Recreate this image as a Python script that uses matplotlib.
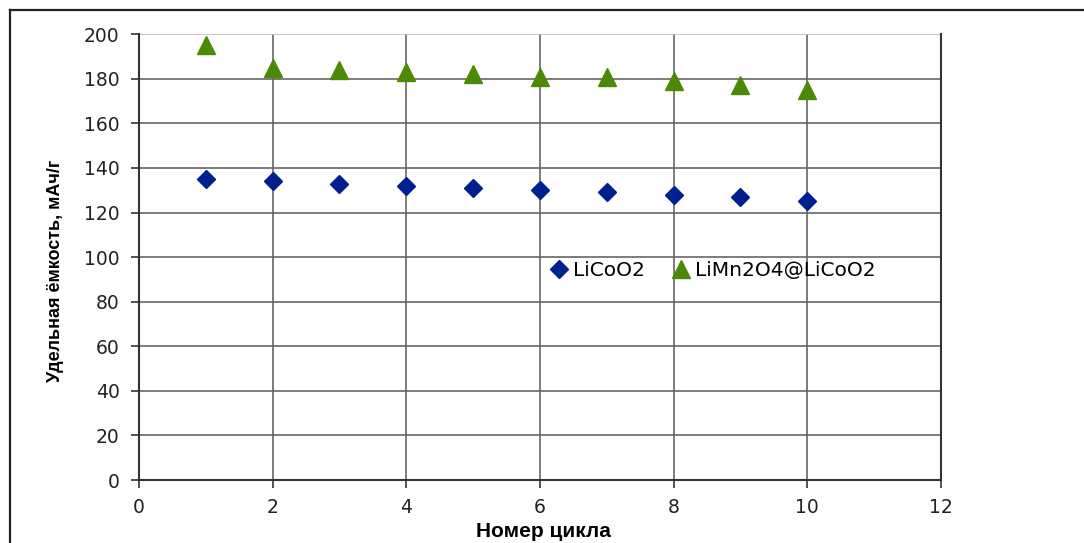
import matplotlib.pyplot as plt
from matplotlib.lines import Line2D

# Data
cycles = [1, 2, 3, 4, 5, 6, 7, 8, 9, 10]
licoo2 = [135, 134, 133, 132, 131, 130, 129, 128, 127, 125]
limn_licoo2 = [195, 185, 184, 183, 182, 181, 181, 179, 177, 175]

plt.rcParams['font.family'] = ['DejaVu Sans']

fig = plt.figure(figsize=(10.84, 5.43), dpi=100)
ax = fig.add_axes([0.1282, 0.116, 0.7398, 0.821])

# outer frame (left and top only visible)
fig.add_artist(Line2D([0.0092, 0.0092], [0.0, 0.982], color='#222222', lw=1.6, transform=fig.transFigure))
fig.add_artist(Line2D([0.0092, 1.0], [0.982, 0.982], color='#222222', lw=1.6, transform=fig.transFigure))

ax.plot(cycles, licoo2, linestyle='none', marker='D', ms=9, color='#00208f', label='LiCoO2', zorder=3)
ax.plot(cycles, limn_licoo2, linestyle='none', marker='^', ms=13, color='#4b8a07', label='LiMn2O4@LiCoO2', zorder=3)

ax.set_xlim(0, 12)
ax.set_ylim(0, 200)
ax.set_xticks(range(0, 13, 2))
ax.set_yticks(range(0, 201, 20))
ax.grid(True, color='#666666', lw=1.2)
for gl in ax.get_ygridlines()[-1:]:
    gl.set_color('#bbbbbb')
ax.set_axisbelow(True)

for side in ['left', 'right', 'bottom']:
    ax.spines[side].set_color('#333333')
    ax.spines[side].set_linewidth(1.5)
ax.spines['top'].set_visible(False)
ax.tick_params(direction='out', length=6, width=1.2, color='#333333', labelsize=13.5, labelcolor='#222222')
ax.tick_params(axis='y', pad=8)
ax.tick_params(axis='x', pad=7)

ax.set_xlabel('Номер цикла', fontsize=15, fontweight='bold', family=['Liberation Sans', 'DejaVu Sans'])
ax.set_ylabel('Удельная ёмкость, мАч/г', fontsize=13, fontweight='bold', family=['Liberation Sans', 'DejaVu Sans'])
ax.xaxis.set_label_coords(0.504, -0.094)
ax.yaxis.set_label_coords(-0.094, 0.47)

ax.legend(loc='center left', bbox_to_anchor=(0.486, 0.469), ncol=2, frameon=False,
          fontsize=14.5, handletextpad=0.1, columnspacing=1.2, handlelength=1.2)

fig.savefig('out.png', dpi=100)
